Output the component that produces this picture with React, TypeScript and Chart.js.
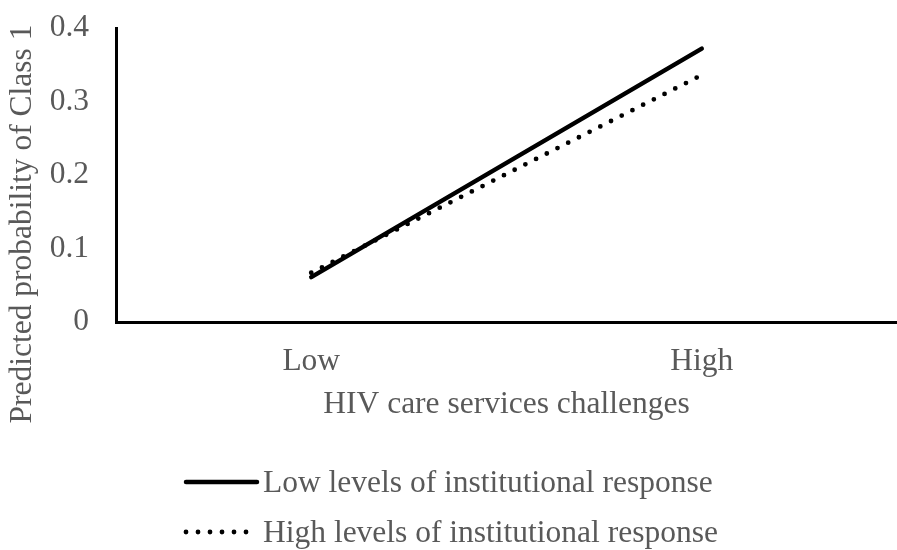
import React, { useEffect, useRef } from "react";
import { Chart, registerables } from "chart.js";

Chart.register(...registerables);

const categories = ["Low", "High"];
const lowResponse = [0.061, 0.372];
const highResponse = [0.067, 0.336];
const seriesNames = ["Low levels of institutional response", "High levels of institutional response"];
const yTicks = [0, 0.1, 0.2, 0.3, 0.4];
const xTitle = "HIV care services challenges";
const yTitle = "Predicted probability of Class 1";

const FONT = "'Liberation Serif', 'Times New Roman', serif";
const TEXT = "#595959";
const FS = 31.5;

const legendPlugin = {
  id: "stackedLegend",
  afterDraw(chart: any) {
    const ctx = chart.ctx;
    const W = chart.width;
    ctx.save();
    ctx.font = `${FS}px ${FONT}`;
    // y axis title
    ctx.save();
    ctx.translate(23, 224);
    ctx.rotate(-Math.PI / 2);
    ctx.fillStyle = TEXT;
    ctx.textAlign = "center";
    ctx.textBaseline = "middle";
    ctx.fillText(yTitle, 0, 0);
    ctx.restore();
    // legend
    const sampleW = 71;
    const gap = 6;
    const widths = chart.data.datasets.map((d: any) => ctx.measureText(d.label).width);
    const maxW = Math.max(...widths);
    const x0 = Math.round((W - (sampleW + gap + maxW)) / 2) + 3;
    const rows = [482, 532];
    chart.data.datasets.forEach((d: any, i: number) => {
      const y = rows[i];
      ctx.beginPath();
      ctx.strokeStyle = d.borderColor;
      ctx.lineWidth = d.borderWidth;
      ctx.lineCap = "round";
      ctx.setLineDash(d.borderDash || []);
      const len = d.borderDash && d.borderDash.length ? 62 : sampleW;
      ctx.moveTo(x0, y);
      ctx.lineTo(x0 + len, y);
      ctx.stroke();
      ctx.setLineDash([]);
      ctx.fillStyle = TEXT;
      ctx.textBaseline = "middle";
      ctx.textAlign = "left";
      ctx.fillText(d.label, x0 + sampleW + gap, y + 2);
    });
    ctx.restore();
  },
};

export default function App() {
  const ref = useRef<HTMLCanvasElement>(null);
  useEffect(() => {
    const canvas = ref.current;
    if (!canvas) return;
    const chart = new Chart(canvas, {
      type: "line",
      data: {
        labels: categories,
        datasets: [
          {
            label: seriesNames[0],
            data: lowResponse,
            borderColor: "#000000",
            borderWidth: 4.5,
            borderCapStyle: "round",
            pointRadius: 0,
            fill: false,
          },
          {
            label: seriesNames[1],
            data: highResponse,
            borderColor: "#000000",
            borderWidth: 4.8,
            borderCapStyle: "round",
            borderDash: [0, 12],
            pointRadius: 0,
            fill: false,
          },
        ],
      },
      options: {
        animation: false,
        responsive: false,
        maintainAspectRatio: false,
        layout: { padding: { top: 28, left: 0, right: -5, bottom: 126 } },
        plugins: {
          legend: { display: false },
          tooltip: { enabled: false },
        },
        scales: {
          x: {
            type: "category",
            offset: true,
            grid: { display: false, drawTicks: false },
            border: { display: true, color: "#000000", width: 3 },
            ticks: {
              color: TEXT,
              font: { family: FONT, size: FS, lineHeight: 1.2 },
              padding: 21,
              maxRotation: 0,
            },
            title: {
              display: true,
              text: xTitle,
              color: TEXT,
              font: { family: FONT, size: FS, lineHeight: 1.2 },
              padding: { top: 0, bottom: 0 },
            },
            afterFit(scale: any) {
              scale.height = 102;
            },
          },
          y: {
            min: 0,
            max: 0.4,
            grid: { display: false, drawTicks: false },
            border: { display: true, color: "#000000", width: 3 },
            afterBuildTicks(scale: any) {
              scale.ticks = yTicks.map((v) => ({ value: v }));
            },
            ticks: {
              color: TEXT,
              font: { family: FONT, size: FS, lineHeight: 1.2 },
              padding: 27,
              callback: (v: any) => Number(Number(v).toFixed(1)).toString(),
            },
            title: { display: false, text: yTitle },
            afterFit(scale: any) {
              scale.width = 116;
              scale.paddingTop = 0;
              scale.paddingBottom = 0;
            },
          },
        },
      },
      plugins: [legendPlugin],
    } as any);
    return () => chart.destroy();
  }, []);
  return (
    <div style={{ position: "fixed", left: 0, top: 0, width: 897, height: 550, background: "#fff" }}>
      <canvas ref={ref} width={897} height={550} style={{ display: "block", width: 897, height: 550 }} />
    </div>
  );
}
